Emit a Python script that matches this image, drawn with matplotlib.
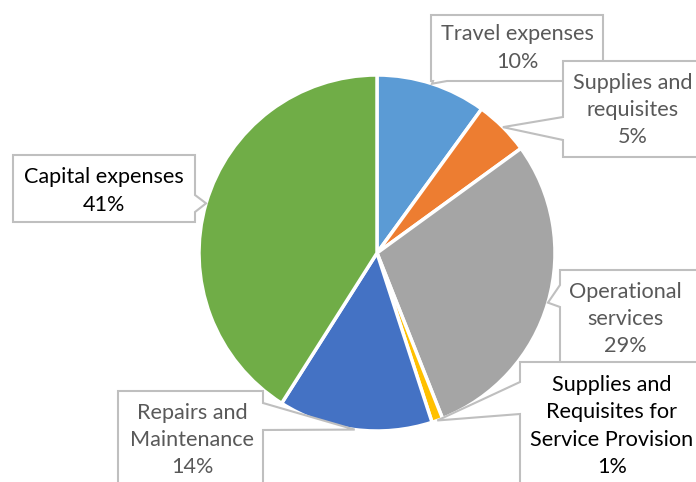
import matplotlib
matplotlib.use("Agg")
import numpy as np
from matplotlib import pyplot as plt
from matplotlib.patches import Polygon

# data
labels = ["Travel expenses", "Supplies and\nrequisites", "Operational\nservices",
          "Supplies and\nRequisites for\nService Provision", "Repairs and\nMaintenance",
          "Capital expenses"]
values = [10, 5, 29, 1, 14, 41]
colors = ["#5B9BD5", "#ED7D31", "#A5A5A5", "#FFC000", "#4472C4", "#70AD47"]
text_colors = ["#595959", "#595959", "#595959", "black", "#595959", "black"]

W, H = 696, 482

# callout layout in pixels (y down): box, side of pointer, pointer base, text centre
boxes = [(431, 15, 603, 81), (563, 61, 700, 157), (560, 270, 700, 366),
         (520, 362, 700, 490), (118, 391, 263, 490), (13, 155, 195, 222)]
sides = ["bottom", "left", "left", "left", "right", "right"]
bases = [(433, 447), (117, 140), (285, 307), (382, 414), (403, 430), (195, 212)]
text_pos = [(517, 48), (633, 110), (625, 319), (612, 426), (192, 440), (104, 191)]

plt.rcParams['font.family'] = ['Lato', 'DejaVu Sans']

fig = plt.figure(figsize=(W / 100, H / 100), dpi=100)
ax = fig.add_axes([0, 0, 1, 1])

cx, cy, r = 377, H - 253, 178
wedges, _ = ax.pie(values, colors=colors, startangle=90, counterclock=False,
                   center=(cx, cy), radius=r,
                   wedgeprops=dict(edgecolor='white', linewidth=2.5))
ax.set_xlim(0, W)
ax.set_ylim(0, H)
ax.axis('off')


def up(y):
    return H - y


for i in range(len(values)):
    w = wedges[i]
    mid = np.deg2rad((w.theta1 + w.theta2) / 2)
    tip = (cx + r * np.cos(mid), cy + r * np.sin(mid))
    x0, y0, x1, y1 = boxes[i]
    a, b = bases[i]
    if sides[i] == "left":
        pts = [(x0, up(y0)), (x1, up(y0)), (x1, up(y1)), (x0, up(y1)),
               (x0, up(b)), tip, (x0, up(a))]
    elif sides[i] == "right":
        pts = [(x0, up(y0)), (x1, up(y0)), (x1, up(a)), tip,
               (x1, up(b)), (x1, up(y1)), (x0, up(y1))]
    else:
        pts = [(x0, up(y0)), (x1, up(y0)), (x1, up(y1)), (b, up(y1)),
               tip, (a, up(y1)), (x0, up(y1))]
    ax.add_patch(Polygon(pts, closed=True, facecolor='white', edgecolor='#BFBFBF',
                         linewidth=1.5, zorder=3 + i))
    tx, ty = text_pos[i]
    ax.text(tx, up(ty), f"{labels[i]}\n{values[i]}%", ha='center', va='center',
            color=text_colors[i], fontsize=15.6, linespacing=1.45, zorder=3 + i)

fig.savefig('out.png', dpi=100)
